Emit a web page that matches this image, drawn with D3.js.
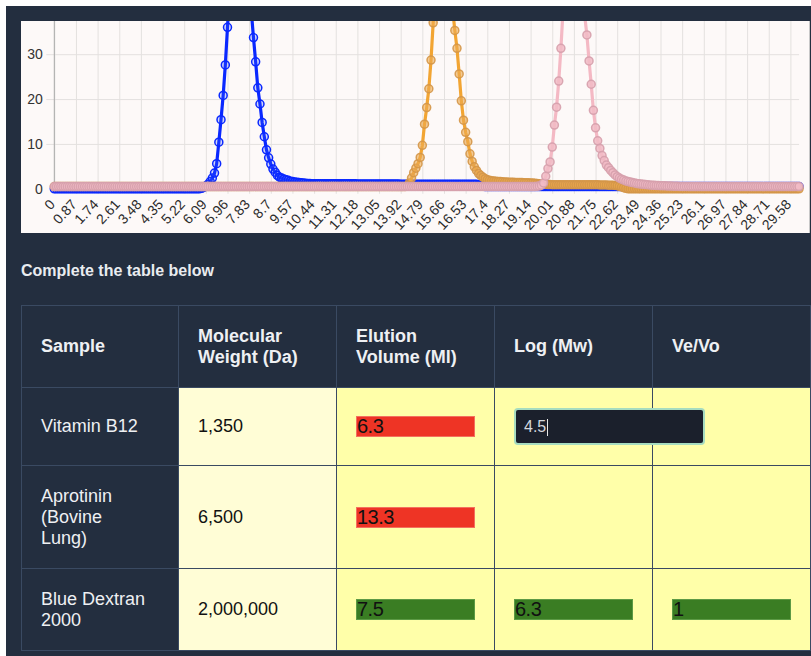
<!DOCTYPE html>
<html>
<head>
<meta charset="utf-8">
<title>Gel filtration chromatogram</title>
<script src="https://cdn.jsdelivr.net/npm/d3@7/dist/d3.min.js"></script>
<style>
  html, body { margin: 0; padding: 0; width: 811px; height: 656px; overflow: hidden; background: #fff; }
  body { position: relative; font-family: "Liberation Sans", Arial, Helvetica, sans-serif; }
  #page { position: absolute; left: 6px; top: 6px; width: 805px; height: 650px; background: #232e3f; }
  #chart-box { position: absolute; left: 21px; top: 21px; width: 788px; height: 212px; background: #fdf9f8;
               border-right: 1px solid #c8c8c8; overflow: hidden; }
  #chart-box svg { display: block; }
  #prompt { position: absolute; left: 21px; top: 263px; font-weight: bold; font-size: 16px; line-height: 16px; color: #e9ecf0; }
  #table { position: absolute; left: 21px; top: 305px; width: 789px; border-collapse: collapse; table-layout: fixed; }
  #table td, #table th { border: 1px solid #3a4a62; padding: 0 19px; font-size: 18px; line-height: 21px;
                         vertical-align: middle; text-align: left; white-space: pre-line; overflow: visible; }
  #table th { color: #eef0f3; font-weight: bold; }
  td.sample { color: #eef0f3; }
  td.weight { background: #fffdd6; color: #111; }
  td.entry  { background: #ffffa9; }
  .box { display: block; width: 119px; height: 21px; box-sizing: border-box; font-size: 20px; line-height: 19px; color: #111; letter-spacing: -0.5px; }
  .box.bad  { background: #ee3425; border: 1px solid #f3705f; }
  .box.good { background: #3a7d23; border: 1px solid #5c9a45; }
  .box.editing { position: relative; z-index: 2; width: 191px; height: 37px; background: #1b202c; border: 2px solid #a6dcc0;
                 border-radius: 4px; color: #d3d7de; font-size: 16px; line-height: 33px; padding-left: 8px; letter-spacing: 0; }
  .caret { display: inline-block; width: 1px; height: 17px; background: #e8e8e8; vertical-align: middle; margin-left: 1px; }
</style>
</head>
<body>
<div id="page"></div>
<div id="chart-box"></div>
<div id="prompt">Complete the table below</div>
<table id="table"></table>

<script>
// ── Data ──────────────────────────────────────────────────────────────────────
// absorbance readings, one every VOLUME_STEP mL from 0 (10 readings per row)
const VOLUME_STEP = 0.087;

const tickLabels = ["0", "0.87", "1.74", "2.61", "3.48", "4.35", "5.22", "6.09", "6.96", "7.83",
  "8.7", "9.57", "10.44", "11.31", "12.18", "13.05", "13.92", "14.79", "15.66", "16.53",
  "17.4", "18.27", "19.14", "20.01", "20.88", "21.75", "22.62", "23.49", "24.36", "25.23",
  "26.1", "26.97", "27.84", "28.71", "29.58"];

const yTicks = [0, 10, 20, 30];

const blueDextran = [
  0, 0, 0, 0, 0, 0, 0, 0, 0, 0,
  0, 0, 0, 0, 0, 0, 0, 0, 0, 0,
  0, 0, 0, 0, 0, 0, 0, 0, 0, 0,
  0, 0, 0, 0, 0, 0, 0, 0, 0, 0,
  0, 0, 0, 0, 0, 0, 0, 0, 0, 0,
  0, 0, 0, 0, 0, 0, 0, 0, 0, 0,
  0, 0, 0, 0, 0, 0, 0, 0, 0.1, 0.3,
  0.6, 1.0, 1.6, 2.4, 3.5, 5.6, 10.4, 15.4, 20.8, 27.6,
  36, 44, 51, 57, 61, 63, 63, 61, 57, 52,
  46, 39.5, 33.7, 28.3, 22.5, 18.9, 14.8, 11.6, 8.7, 6.9,
  5.5, 4.4, 3.7, 3.0, 2.6, 2.4, 2.2, 2.0, 1.9, 1.7,
  1.6, 1.5, 1.45, 1.4, 1.35, 1.3, 1.25, 1.2, 1.2, 1.15,
  1.1, 1.1, 1.1, 1.1, 1.1, 1.1, 1.1, 1.1, 1.1, 1.1,
  1.1, 1.1, 1.1, 1.1, 1.1, 1.1, 1.1, 1.1, 1.1, 1.1,
  1.05, 1.05, 1.05, 1.05, 1.05, 1.05, 1.05, 1.05, 1.05, 1.05,
  1.05, 1.05, 1.05, 1.05, 1.05, 1.05, 1.05, 1.05, 1.05, 1.05,
  1, 1, 1, 1, 1, 1, 1, 1, 1, 1,
  1, 1, 1, 1, 1, 1, 1, 1, 1, 1,
  1, 1, 1, 1, 1, 1, 1, 1, 1, 1,
  1, 1, 1, 1, 1, 1, 0.9, 0.8, 0.6, 0.5,
  0.5, 0.5, 0.5, 0.5, 0.5, 0.5, 0.5, 0.5, 0.5, 0.5,
  0.5, 0.5, 0.5, 0.5, 0.5, 0.5, 0.5, 0.5, 0.5, 0.5,
  0.5, 0.5, 0.5, 0.5, 0.5, 0.5, 0.5, 0.5, 0.5, 0.5,
  0.5, 0.5, 0.5, 0.5, 0.5, 0.5, 0.5, 0.5, 0.5, 0.5,
  0.5, 0.5, 0.5, 0.5, 0.5, 0.5, 0.5, 0.5, 0.5, 0.5,
  0.5, 0.5, 0.5, 0.5, 0.5, 0.5, 0.5, 0.5, 0.5, 0.5,
  0.5, 0.5, 0.5, 0.5, 0.5, 0.5, 0.5, 0.5, 0.5, 0.5,
  0.5, 0.5, 0.5, 0.5, 0.5, 0.5, 0.5, 0.5, 0.5, 0.5,
  0.5, 0.5, 0.5, 0.5, 0.5, 0.5, 0.5, 0.5, 0.5, 0.5,
  0.5, 0.5, 0.5, 0.5, 0.5, 0.5, 0.5, 0.5, 0.5, 0.5,
  0.5, 0.5, 0.5, 0.5, 0.5, 0.5, 0.5, 0.5, 0.5, 0.5,
  0.5, 0.5, 0.5, 0.5, 0.5, 0.5, 0.5, 0.5, 0.5, 0.5,
  0.5, 0.5, 0.5, 0.5, 0.5, 0.5, 0.5, 0.5, 0.5, 0.5,
  0.5, 0.5, 0.5, 0.5, 0.5, 0.5, 0.5, 0.5, 0.5, 0.5,
  0.5, 0.5, 0.5, 0.5, 0.5
];

const aprotinin = [
  0.5, 0.5, 0.5, 0.5, 0.5, 0.5, 0.5, 0.5, 0.5, 0.5,
  0.5, 0.5, 0.5, 0.5, 0.5, 0.5, 0.5, 0.5, 0.5, 0.5,
  0.5, 0.5, 0.5, 0.5, 0.5, 0.5, 0.5, 0.5, 0.5, 0.5,
  0.5, 0.5, 0.5, 0.5, 0.5, 0.5, 0.5, 0.5, 0.5, 0.5,
  0.5, 0.5, 0.5, 0.5, 0.5, 0.5, 0.5, 0.5, 0.5, 0.5,
  0.5, 0.5, 0.5, 0.5, 0.5, 0.5, 0.5, 0.5, 0.5, 0.5,
  0.5, 0.5, 0.5, 0.5, 0.5, 0.5, 0.5, 0.5, 0.5, 0.5,
  0.5, 0.5, 0.5, 0.5, 0.5, 0.5, 0.5, 0.5, 0.5, 0.5,
  0.5, 0.5, 0.5, 0.5, 0.5, 0.5, 0.5, 0.5, 0.5, 0.5,
  0.5, 0.5, 0.5, 0.5, 0.5, 0.5, 0.5, 0.5, 0.5, 0.5,
  0.5, 0.5, 0.5, 0.5, 0.5, 0.5, 0.5, 0.5, 0.5, 0.5,
  0.5, 0.5, 0.5, 0.5, 0.5, 0.5, 0.5, 0.5, 0.5, 0.5,
  0.5, 0.5, 0.5, 0.5, 0.5, 0.5, 0.5, 0.5, 0.5, 0.5,
  0.5, 0.5, 0.5, 0.5, 0.5, 0.5, 0.5, 0.5, 0.5, 0.5,
  0.5, 0.5, 0.5, 0.5, 0.5, 0.5, 0.5, 0.5, 0.5, 0.5,
  0.5, 0.5, 0.5, 0.5, 0.5, 0.5, 0.5, 0.5, 0.5, 0.5,
  0.5, 0.5, 0.5, 0.6, 1.3, 2.4, 3.6, 4.6, 5.6, 7.0,
  9.7, 14.4, 18.1, 22.3, 28.7, 37.0, 45, 52, 57, 60,
  61, 58, 53, 46, 40, 35.3, 31.3, 25.6, 19.6, 15.3,
  12.6, 10.5, 7.8, 6.1, 4.9, 4.1, 3.4, 2.95, 2.6, 2.25,
  2.0, 1.9, 1.8, 1.75, 1.7, 1.65, 1.6, 1.55, 1.5, 1.5,
  1.45, 1.45, 1.45, 1.4, 1.4, 1.4, 1.4, 1.35, 1.35, 1.35,
  1.3, 1.3, 1.25, 1.2, 1.15, 1.1, 1.05, 1.0, 0.95, 0.95,
  0.9, 0.9, 0.9, 0.9, 0.9, 0.9, 0.9, 0.9, 0.9, 0.9,
  0.9, 0.9, 0.9, 0.9, 0.9, 0.9, 0.9, 0.9, 0.9, 0.9,
  0.9, 0.9, 0.85, 0.85, 0.85, 0.85, 0.8, 0.8, 0.8, 0.75,
  0.7, 0.55, 0.4, 0.25, 0.1, 0, 0, 0, 0, 0,
  0, 0, 0, 0, 0, 0, 0, 0, 0, 0,
  0, 0, 0, 0, 0, 0, 0, 0, 0, 0,
  0, 0, 0, 0, 0, 0, 0, 0, 0, 0,
  0, 0, 0, 0, 0, 0, 0, 0, 0, 0,
  0, 0, 0, 0, 0, 0, 0, 0, 0, 0,
  0, 0, 0, 0, 0, 0, 0, 0, 0, 0,
  0, 0, 0, 0, 0, 0, 0, 0, 0, 0,
  0, 0, 0, 0, 0
];

const vitaminB12 = [
  0.5, 0.5, 0.5, 0.5, 0.5, 0.5, 0.5, 0.5, 0.5, 0.5,
  0.5, 0.5, 0.5, 0.5, 0.5, 0.5, 0.5, 0.5, 0.5, 0.5,
  0.5, 0.5, 0.5, 0.5, 0.5, 0.5, 0.5, 0.5, 0.5, 0.5,
  0.5, 0.5, 0.5, 0.5, 0.5, 0.5, 0.5, 0.5, 0.5, 0.5,
  0.5, 0.5, 0.5, 0.5, 0.5, 0.5, 0.5, 0.5, 0.5, 0.5,
  0.5, 0.5, 0.5, 0.5, 0.5, 0.5, 0.5, 0.5, 0.5, 0.5,
  0.5, 0.5, 0.5, 0.5, 0.5, 0.5, 0.5, 0.5, 0.5, 0.5,
  0.5, 0.5, 0.5, 0.5, 0.5, 0.5, 0.5, 0.5, 0.5, 0.5,
  0.5, 0.5, 0.5, 0.5, 0.5, 0.5, 0.5, 0.5, 0.5, 0.5,
  0.5, 0.5, 0.5, 0.5, 0.5, 0.5, 0.5, 0.5, 0.5, 0.5,
  0.5, 0.5, 0.5, 0.5, 0.5, 0.5, 0.5, 0.5, 0.5, 0.5,
  0.5, 0.5, 0.5, 0.5, 0.5, 0.5, 0.5, 0.5, 0.5, 0.5,
  0.5, 0.5, 0.5, 0.5, 0.5, 0.5, 0.5, 0.5, 0.5, 0.5,
  0.5, 0.5, 0.5, 0.5, 0.5, 0.5, 0.5, 0.5, 0.5, 0.5,
  0.5, 0.5, 0.5, 0.5, 0.5, 0.5, 0.5, 0.5, 0.5, 0.5,
  0.5, 0.5, 0.5, 0.5, 0.5, 0.5, 0.5, 0.5, 0.5, 0.5,
  0.5, 0.5, 0.5, 0.5, 0.5, 0.5, 0.5, 0.5, 0.5, 0.5,
  0.5, 0.5, 0.5, 0.5, 0.5, 0.5, 0.5, 0.5, 0.5, 0.5,
  0.5, 0.5, 0.5, 0.5, 0.5, 0.5, 0.5, 0.5, 0.5, 0.5,
  0.5, 0.5, 0.5, 0.5, 0.5, 0.5, 0.5, 0.5, 0.5, 0.5,
  0.5, 0.5, 0.5, 0.5, 0.5, 0.5, 0.5, 0.5, 0.5, 0.5,
  0.5, 0.5, 0.5, 0.5, 0.5, 0.5, 0.5, 0.5, 0.5, 0.5,
  0.5, 0.5, 0.5, 0.55, 0.6, 0.8, 1.3, 2.8, 4.5, 6.0,
  9.3, 14.2, 18.2, 24.0, 31.3, 40, 47, 52, 55, 56,
  55, 53, 50, 46, 42, 38.5, 34.3, 28.5, 23.3, 17.5,
  13.6, 10.7, 9.0, 7.4, 6.3, 5.3, 4.7, 4.1, 3.6, 3.1,
  2.7, 2.4, 2.15, 1.95, 1.75, 1.6, 1.5, 1.4, 1.3, 1.2,
  1.1, 1.05, 1.0, 0.95, 0.9, 0.85, 0.8, 0.78, 0.75, 0.72,
  0.7, 0.68, 0.66, 0.64, 0.62, 0.6, 0.58, 0.56, 0.55, 0.54,
  0.53, 0.52, 0.51, 0.5, 0.5, 0.5, 0.5, 0.5, 0.5, 0.5,
  0.5, 0.5, 0.5, 0.5, 0.5, 0.5, 0.5, 0.5, 0.5, 0.5,
  0.5, 0.5, 0.5, 0.5, 0.5, 0.5, 0.5, 0.5, 0.5, 0.5,
  0.5, 0.5, 0.5, 0.5, 0.5, 0.5, 0.5, 0.5, 0.5, 0.5,
  0.5, 0.5, 0.5, 0.5, 0.5, 0.5, 0.5, 0.5, 0.5, 0.5,
  0.5, 0.5, 0.5, 0.5, 0.5
];

// table
const headers    = ["Sample", "Molecular\nWeight (Da)", "Elution\nVolume (Ml)", "Log (Mw)", "Ve/Vo"];
const samples    = ["Vitamin B12", "Aprotinin\n(Bovine\nLung)", "Blue Dextran\n2000"];
const weights    = ["1,350", "6,500", "2,000,000"];
const elution    = ["6.3", "13.3", "7.5"];
const elutionOk  = ["bad", "bad", "good"];
const logMw      = ["4.5", "", "6.3"];
const logMwOk    = ["editing", "", "good"];
const veVo       = ["", "", "1"];
const veVoOk     = ["", "", "good"];

// ── Chart ─────────────────────────────────────────────────────────────────────
const series = [
  { values: blueDextran, line: "#0a28ff", fill: "rgba(60,90,255,0.22)",   stroke: "#0a28ff" },
  { values: aprotinin,   line: "#f2a533", fill: "rgba(236,170,80,0.6)",   stroke: "rgba(212,150,72,0.9)" },
  { values: vitaminB12,  line: "#f4b9c4", fill: "rgba(241,187,198,0.85)", stroke: "rgba(214,160,172,0.9)" }
];

const W = 788, H = 212;
const plotLeft = 33.3, plotBottom = 167.8;
const tickValues = tickLabels.map(Number);

const x = d3.scaleLinear().domain([0, tickValues[tickValues.length - 1]]).range([plotLeft, 769.4]);
const y = d3.scaleLinear().domain([0, 37.4]).range([plotBottom, 0]);
const xEnd = x((blueDextran.length - 1) * VOLUME_STEP);

const svg = d3.select("#chart-box").append("svg").attr("width", W).attr("height", H);

// grid
const gx = svg.append("g")
  .attr("transform", `translate(0,${plotBottom + 5})`)
  .call(d3.axisBottom(x).tickValues(tickValues).tickSize(-(plotBottom + 5)).tickFormat(""));
gx.select(".domain").remove();
gx.selectAll("line").attr("stroke", "#e4e1df");

const gy = svg.append("g")
  .attr("transform", `translate(${plotLeft - 8},0)`)
  .call(d3.axisLeft(y).tickValues(yTicks.slice(1)).tickSize(-(xEnd - plotLeft + 8)).tickFormat(""));
gy.select(".domain").remove();
gy.selectAll("line").attr("stroke", "#e4e1df");

svg.append("line")
  .attr("x1", plotLeft).attr("x2", plotLeft).attr("y1", 0).attr("y2", plotBottom)
  .attr("stroke", "#a8a8a8");
svg.append("line")
  .attr("x1", plotLeft).attr("x2", xEnd).attr("y1", y(0)).attr("y2", y(0))
  .attr("stroke", "#c8c8c8");

// y tick labels
const yl = svg.append("g")
  .attr("transform", `translate(${plotLeft},0)`)
  .call(d3.axisLeft(y).tickValues(yTicks).tickSize(0).tickPadding(11.6));
yl.select(".domain").remove();
yl.selectAll("text")
  .attr("font-family", "'Liberation Sans', Arial, Helvetica, sans-serif")
  .attr("font-size", 14).attr("fill", "#333");

// x tick labels, rotated
svg.append("g").selectAll("text").data(tickValues).join("text")
  .attr("transform", d => `translate(${x(d) - 2},${plotBottom + 13}) rotate(-47)`)
  .attr("text-anchor", "end")
  .attr("dy", "0.35em")
  .attr("font-family", "'Liberation Sans', Arial, Helvetica, sans-serif")
  .attr("font-size", 14).attr("fill", "#2b2b2b")
  .text((d, i) => tickLabels[i]);

// series
const line = d3.line()
  .x((d, i) => x(i * VOLUME_STEP))
  .y(d => y(d));

series.forEach(s => {
  const g = svg.append("g");
  g.append("path")
    .datum(s.values)
    .attr("d", line)
    .attr("fill", "none")
    .attr("stroke", s.line)
    .attr("stroke-width", 3.2)
    .attr("stroke-linejoin", "round");
  g.selectAll("circle").data(s.values).join("circle")
    .attr("cx", (d, i) => x(i * VOLUME_STEP))
    .attr("cy", d => y(d))
    .attr("r", 4)
    .attr("fill", s.fill)
    .attr("stroke", s.stroke)
    .attr("stroke-width", 1.5);
});

// ── Table ─────────────────────────────────────────────────────────────────────
const colWidths = [157, 158, 158, 158, 158];
const rowHeights = [82, 78, 103, 82];

const table = d3.select("#table");
table.append("colgroup").selectAll("col").data(colWidths).join("col")
  .style("width", d => `${d}px`);

table.append("tr").style("height", `${rowHeights[0]}px`)
  .selectAll("th").data(headers).join("th").text(d => d);

function entryCell(td, value, state) {
  if (!state) return;
  const box = td.append("div").attr("class", `box ${state}`).text(value);
  if (state === "editing") box.append("span").attr("class", "caret");
}

samples.forEach((name, i) => {
  const tr = table.append("tr").style("height", `${rowHeights[i + 1]}px`);
  tr.append("td").attr("class", "sample").text(name);
  tr.append("td").attr("class", "weight").text(weights[i]);
  entryCell(tr.append("td").attr("class", "entry"), elution[i], elutionOk[i]);
  entryCell(tr.append("td").attr("class", "entry"), logMw[i], logMwOk[i]);
  entryCell(tr.append("td").attr("class", "entry"), veVo[i], veVoOk[i]);
});
</script>
</body>
</html>
